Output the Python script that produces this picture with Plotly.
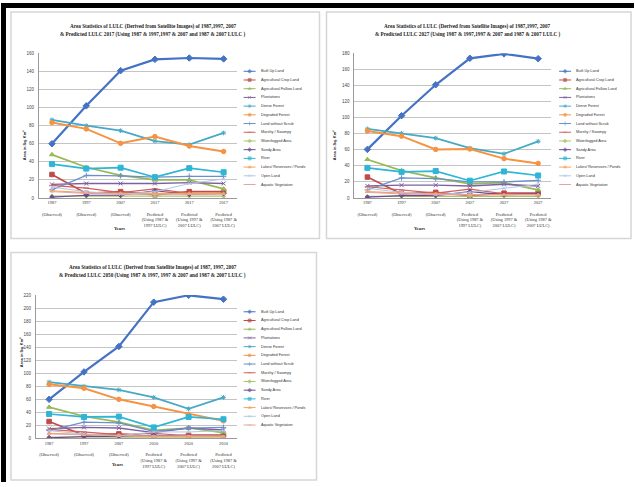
import plotly.graph_objects as go

W, H = 635, 487

series_names = ["Built Up Land", "Agricultural Crop Land", "Agricultural Fallow Land", "Plantations",
                "Dense Forest", "Degraded Forest", "Land without Scrub", "Marshy / Swampy",
                "Waterlogged Area", "Sandy Area", "River", "Lakes/ Reservoirs / Ponds",
                "Open Land", "Aquatic Vegetation"]

x_2017 = ["1987<br><br>(Observed)", "1997<br><br>(Observed)", "2007<br><br>(Observed)",
          "2017<br><br>Predicted<br>(Using 1987 &<br>1997 LULC)",
          "2017<br><br>Predicted<br>(Using 1997 &<br>2007 LULC)",
          "2017<br><br>Predicted<br>(Using 1987 &<br>2007 LULC)"]
x_2027 = ["1987<br><br>(Observed)", "1997<br><br>(Observed)", "2007<br><br>(Observed)",
          "2027<br><br>Predicted<br>(Using 1987 &<br>1997 LULC)",
          "2027<br><br>Predicted<br>(Using 1997 &<br>2007 LULC)",
          "2027<br><br>Predicted<br>(Using 1987 &<br>2007 LULC)"]
x_2050 = ["1987<br><br>(Observed)", "1997<br><br>(Observed)", "2007<br><br>(Observed)",
          "2050<br><br>Predicted<br>(Using 1987 &<br>1997 LULC)",
          "2050<br><br>Predicted<br>(Using 1997 &<br>2007 LULC)",
          "2050<br><br>Predicted<br>(Using 1987 &<br>2007 LULC)"]

# Panel 1: predicted 2017
p1_built = [60, 102, 141, 153.5, 155, 154]
p1_crop = [26, 5, 7, 3.5, 7, 7]
p1_fallow = [48, 34, 25, 20, 20, 10]
p1_plant = [15, 16, 16, 16, 17, 16]
p1_dense = [86.5, 80, 74.5, 63, 59, 72]
p1_degraded = [83.5, 76.5, 60.5, 68, 57.5, 51.5]
p1_scrub = [9, 25, 24.5, 23, 24, 24]
p1_marshy = [14, 11, 6, 10, 5, 5]
p1_waterlog = [2, 2, 2, 2, 2, 2]
p1_sandy = [1, 3, 3, 8, 4, 5]
p1_river = [37.5, 32.5, 33.5, 23, 33, 28.5]
p1_lakes = [8, 6, 5, 5, 5, 5]
p1_open = [12, 7, 4, 7, 16, 21]
p1_aquatic = [7, 5, 4, 4, 4, 4]

# Panel 2: predicted 2027
p2_built = [60.5, 102.5, 141, 174, 179.5, 173.5]
p2_crop = [26, 5, 7, 3, 6, 6]
p2_fallow = [48, 34, 25, 17.5, 19, 10]
p2_plant = [15, 16, 16, 15, 17, 15]
p2_dense = [86, 80.5, 74.5, 62, 55, 70.5]
p2_degraded = [83.5, 77, 60.5, 61, 49, 43]
p2_scrub = [10, 25, 24, 20, 20, 22]
p2_marshy = [14, 10, 6, 11, 5, 5]
p2_waterlog = [2, 2, 2, 2, 2, 2]
p2_sandy = [1, 3, 3, 8, 4, 5]
p2_river = [37.5, 32.5, 33.5, 21.5, 33, 28]
p2_lakes = [8, 6, 5, 4, 4, 4]
p2_open = [12, 7, 4, 7, 12, 17]
p2_aquatic = [7, 5, 4, 4, 4, 4]

# Panel 3: predicted 2050
p3_built = [60, 102, 141, 209, 219.5, 213.5]
p3_crop = [26, 5, 7, 3, 5, 5]
p3_fallow = [48, 34, 25, 12.5, 16, 9]
p3_plant = [15, 17, 16, 9, 16, 13]
p3_dense = [86.5, 80, 74.5, 63, 45.5, 63]
p3_degraded = [83, 77, 60, 49, 37, 27]
p3_scrub = [12, 25, 24, 11, 16, 17]
p3_marshy = [14, 10, 6, 8, 4, 4]
p3_waterlog = [2, 2, 2, 2, 2, 2]
p3_sandy = [1, 3, 3, 5, 3, 4]
p3_river = [37.5, 33, 33.5, 17, 33, 29.5]
p3_lakes = [8, 6, 5, 3, 3, 3]
p3_open = [12, 7, 4, 10, 10, 12]
p3_aquatic = [7, 5, 4, 4, 4, 4]

panel1 = [p1_built, p1_crop, p1_fallow, p1_plant, p1_dense, p1_degraded, p1_scrub,
          p1_marshy, p1_waterlog, p1_sandy, p1_river, p1_lakes, p1_open, p1_aquatic]
panel2 = [p2_built, p2_crop, p2_fallow, p2_plant, p2_dense, p2_degraded, p2_scrub,
          p2_marshy, p2_waterlog, p2_sandy, p2_river, p2_lakes, p2_open, p2_aquatic]
panel3 = [p3_built, p3_crop, p3_fallow, p3_plant, p3_dense, p3_degraded, p3_scrub,
          p3_marshy, p3_waterlog, p3_sandy, p3_river, p3_lakes, p3_open, p3_aquatic]

title1a = "Area Statistics of LULC (Derived from Satellite Images) of 1987,1997, 2007"
title1b = "& Predicted LULC 2017 (Using 1987 & 1997,1997 & 2007 and 1987 & 2007 LULC )"
title2a = "Area Statistics of LULC (Derived from Satellite Images) of 1987,1997, 2007"
title2b = "& Predicted LULC 2027 (Using 1987 & 1997,1997 & 2007 and 1987 & 2007 LULC )"
title3a = "Area Statistics of LULC (Derived from Satellite Images) of 1987, 1997, 2007"
title3b = "& Predicted LULC 2050 (Using 1987 & 1997, 1997 & 2007 and 1987 & 2007 LULC )"
titles = [(title1a, title1b), (title2a, title2b), (title3a, title3b)]

colors = ["#4472C4", "#BE4B48", "#98B954", "#7D60A0", "#46AAC5", "#F69240",
          "#6C8FCB", "#D35F5C", "#A9C46C", "#6A4C93", "#2FB5D6", "#F8A25A",
          "#B0C7E6", "#E6A3A1"]
symbols = ["diamond", "square", "triangle-up", "x-thin-open", "asterisk-open", "circle",
           "cross-thin-open", "line-ew-open", "diamond", "diamond", "square", "triangle-up",
           "x-thin-open", "line-ew-open"]
widths = [2.2, 1.7, 1.7, 1.4, 1.8, 2.0, 1.3, 1.2, 1.2, 1.2, 1.7, 1.2, 1.0, 1.0]
msizes = [5, 4.5, 4.5, 4, 4, 4.5, 4, 4, 3, 3.5, 5, 3.5, 3, 3]

def px(x):
    return x / W

def py(y):
    return 1 - y / H

fig = go.Figure()

panels = [
    dict(data=panel1, xl=x_2017, ymax=160, box=(39, 237, 52, 198), tx=153, ytx=20, yrx=112,
         lx=244, ly0=70, ty=25),
    dict(data=panel2, xl=x_2027, ymax=180, box=(355, 552, 52, 198), tx=468, ytx=335, yrx=428,
         lx=560, ly0=70, ty=25),
    dict(data=panel3, xl=x_2050, ymax=220, box=(36, 237, 296, 441), tx=153, ytx=17, yrx=110,
         lx=244, ly0=313, ty=268),
]

annotations = []
shapes = []

shapes.append(dict(type="rect", xref="paper", yref="paper", x0=px(1), x1=px(635), y0=py(1), y1=py(6),
                   fillcolor="black", line=dict(width=0), layer="above"))
shapes.append(dict(type="rect", xref="paper", yref="paper", x0=px(1), x1=px(6), y0=py(1), y1=py(485),
                   fillcolor="black", line=dict(width=0), layer="above"))
for (x0, x1, y0, y1) in [(11, 320, 10, 239), (327, 632, 10, 239), (11, 317, 253, 483)]:
    shapes.append(dict(type="rect", xref="paper", yref="paper", x0=px(x0), x1=px(x1), y0=py(y0), y1=py(y1),
                       fillcolor="rgba(0,0,0,0)", line=dict(color="#d6d6d6", width=1.5), layer="below"))

tick_font = dict(family="Liberation Serif", size=4.4, color="#333333")

for k, p in enumerate(panels):
    n = k + 1
    xa = "x" if n == 1 else f"x{n}"
    ya = "y" if n == 1 else f"y{n}"
    l, r, t, b = p["box"]
    for i, vals in enumerate(p["data"]):
        fig.add_trace(go.Scatter(
            x=p["xl"], y=vals, xaxis=xa, yaxis=ya, mode="lines+markers",
            line=dict(color=colors[i], width=widths[i]),
            marker=dict(symbol=symbols[i], size=msizes[i], color=colors[i],
                        line=dict(color=colors[i], width=1)),
            name=series_names[i], showlegend=False))
    xkey = "xaxis" if n == 1 else f"xaxis{n}"
    ykey = "yaxis" if n == 1 else f"yaxis{n}"
    fig.layout[xkey] = dict(domain=[px(l), px(r)], anchor=ya, type="category",
                            showgrid=False, showline=True, linecolor="#9a9a9a", linewidth=1,
                            tickfont=tick_font, tickangle=0, ticks="", fixedrange=True)
    fig.layout[ykey] = dict(domain=[py(b), py(t)], anchor=xa, range=[0, p["ymax"]], dtick=20,
                            showgrid=True, gridcolor="#c4c4c4", gridwidth=0.8,
                            showline=True, linecolor="#9a9a9a", linewidth=1, zeroline=False,
                            tickfont=dict(family="Liberation Sans", size=4.5, color="#444444"),
                            ticks="", ticklabelstandoff=3, fixedrange=True)
    ta, tb = titles[k]
    annotations.append(dict(xref="paper", yref="paper", x=px(p["tx"]), y=py(p["ty"]), text="<b>%s</b>" % ta,
                            showarrow=False, font=dict(family="Liberation Serif", size=5.2, color="#222222"),
                            xanchor="center", yanchor="middle"))
    annotations.append(dict(xref="paper", yref="paper", x=px(p["tx"]), y=py(p["ty"] + 8), text="<b>%s</b>" % tb,
                            showarrow=False, font=dict(family="Liberation Serif", size=5.2, color="#222222"),
                            xanchor="center", yanchor="middle"))
    annotations.append(dict(xref="paper", yref="paper", x=px(p["ytx"]), y=py((t + b) / 2 + 2), text="<b>Area in Sq. Km²</b>",
                            textangle=-90, showarrow=False,
                            font=dict(family="Liberation Sans", size=4, color="#222222")))
    annotations.append(dict(xref="paper", yref="paper", x=px(p["yrx"]), y=py(b + 31), text="<b>Years</b>",
                            showarrow=False, font=dict(family="Liberation Serif", size=4.6, color="#222222")))
    for i, name in enumerate(series_names):
        yy = p["ly0"] + i * 8.8
        fig.add_trace(go.Scatter(
            x=[p["lx"], p["lx"] + 6, p["lx"] + 12], y=[yy, yy, yy], xaxis="x7", yaxis="y7",
            mode="lines+markers", line=dict(color=colors[i], width=1),
            marker=dict(symbol=symbols[i], size=[0, 3, 0], color=colors[i], line=dict(color=colors[i], width=0.8)),
            showlegend=False, hoverinfo="skip"))
        annotations.append(dict(xref="paper", yref="paper", x=px(p["lx"] + 15), y=py(yy), text=name,
                                showarrow=False, xanchor="left", yanchor="middle",
                                font=dict(family="Liberation Sans", size=3.8, color="#333333")))

fig.layout["xaxis7"] = dict(domain=[0, 1], range=[0, W], visible=False, fixedrange=True, anchor="y7")
fig.layout["yaxis7"] = dict(domain=[0, 1], range=[H, 0], visible=False, fixedrange=True, anchor="x7")

fig.update_layout(width=W, height=H, margin=dict(l=0, r=0, t=0, b=0),
                  paper_bgcolor="white", plot_bgcolor="rgba(0,0,0,0)",
                  showlegend=False, shapes=shapes, annotations=annotations)

fig.write_html("out.html", config={"displayModeBar": False},
               post_script="document.body.style.margin='0';document.body.style.overflow='hidden';")
